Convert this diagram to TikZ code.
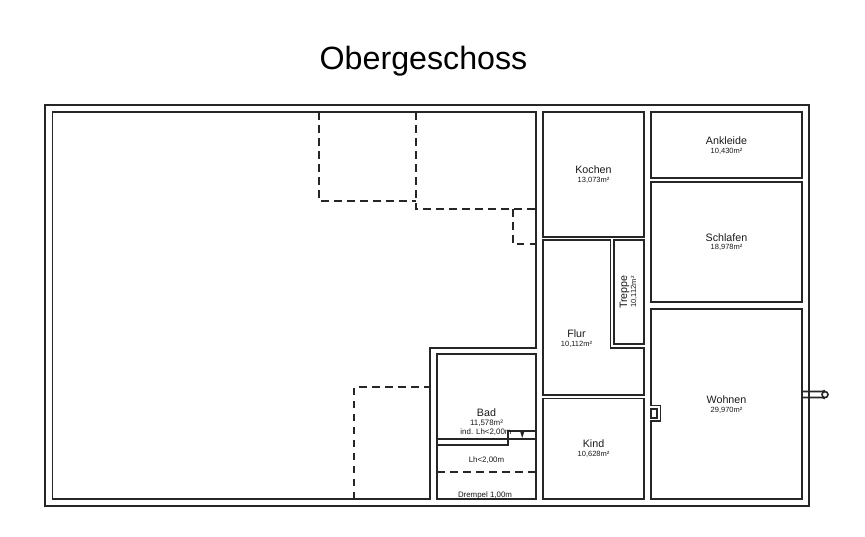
\documentclass[tikz,border=0pt]{standalone}
\usepackage{fontspec}
\setmainfont{Liberation Sans}
\tikzset{
  wall/.style={draw=black!85,line width=1.9pt,line join=miter},
  thin wall/.style={draw=black!85,line width=1.9pt},
  hidden/.style={draw=black!85,line width=1.9pt,dash pattern=on 7.5pt off 5.5pt},
  room/.style={align=center,inner sep=0pt,font=\fontsize{10.7pt}{11pt}\selectfont,text=black!90},
  area/.style={inner sep=0pt,font=\fontsize{7.5pt}{8pt}\selectfont,text=black!90},
  small/.style={inner sep=0pt,font=\fontsize{7.9pt}{8pt}\selectfont,text=black!90}
}
\begin{document}
\begin{tikzpicture}[x=1pt,y=-1pt]
\useasboundingbox (0,0) rectangle (865,536);
\node[inner sep=0pt,font=\fontsize{32.2pt}{36pt}\selectfont,text=black] (title) at (423.5,61) {Obergeschoss};
% outer
\draw[wall] (45,105) rectangle (809,506);
% large area
\draw[wall] (52.5,112) -- (535.6,112) -- (535.6,347.9) -- (429.6,347.9) -- (429.6,499) -- (52.5,499) -- cycle;
% rooms
\draw[wall] (437,354) rectangle (535.6,499);
\draw[wall] (543,112) rectangle (644,236.9);
\draw[wall] (543,240) -- (610.5,240) -- (610.5,348.4) -- (644,348.4) -- (644,395) -- (543,395) -- cycle;
\draw[wall] (614,240) rectangle (644,344);
\draw[wall] (543,398.5) rectangle (644,499);
\draw[wall] (651,112) rectangle (802,178);
\draw[wall] (651,182) rectangle (802,302);
\draw[wall] (651,309) -- (802,309) -- (802,499) -- (651,499) -- (651,421) -- (660.5,421) -- (660.5,405.5) -- (651,405.5) -- cycle;
\draw[thin wall] (651,409) rectangle (657,418);
% pipe
\coordinate (p1) at (802,391.5);
\coordinate (p2) at (802,397.5);
\node[circle,draw=black!85,line width=1.6pt,minimum size=6pt,inner sep=0pt] (pipe) at (825,394.6) {};
\draw[thin wall] (p1) -- (pipe.north west |- p1) -- (pipe.north);
\draw[thin wall] (p2) -- (pipe.south west |- p2) -- (pipe.south);
% bad details
\draw[thin wall] (437,439) -- (535.6,439);
\draw[thin wall] (437,444.8) -- (508.3,444.8) -- (508.3,431) -- (535.6,431);
\fill[black!85] (520,431) -- (524.5,431) -- (522.2,438) -- cycle;
\draw[hidden] (437,472) -- (535.6,472);
% dashed outlines
\draw[hidden] (319.3,112) -- (319.3,201) -- (416,201);
\draw[hidden] (416,112) -- (416,209) -- (535.6,209);
\draw[hidden] (512.6,209) -- (512.6,244) -- (535.6,244);
\draw[hidden] (354,499) -- (354,387) -- (429.6,387);
% labels
\node[room] (kochen) at (593.5,169.8) {Kochen};
\node[area] (kochenA) at (593.5,180.5) {13,073m²};
\node[room] (ankleide) at (726.5,140.8) {Ankleide};
\node[area] (ankleideA) at (726.5,151.5) {10,430m²};
\node[room] (schlafen) at (726.5,237.8) {Schlafen};
\node[area] (schlafenA) at (726.5,247.5) {18,978m²};
\node[room] (wohnen) at (726.5,399.8) {Wohnen};
\node[area] (wohnenA) at (726.5,410.5) {29,970m²};
\node[room] (flur) at (576.5,333.8) {Flur};
\node[area] (flurA) at (576.5,344) {10,112m²};
\node[room] (kind) at (593.5,443.8) {Kind};
\node[area] (kindA) at (593.5,454.5) {10,628m²};
\node[room,rotate=90] (treppe) at (624.5,292) {Treppe};
\node[area,rotate=90] (treppeA) at (634,292) {10,112m²};
\node[room] (bad) at (486.5,413) {Bad};
\node[small] (badA) at (486.5,423.5) {11,578m²};
\node[small] (badB) at (486,432.5) {ind. Lh<2,00m};
\node[small] (lh) at (486.5,460.5) {Lh<2,00m};
\node[small] (drempel) at (485,495.5) {Drempel 1,00m};
\end{tikzpicture}
\end{document}
